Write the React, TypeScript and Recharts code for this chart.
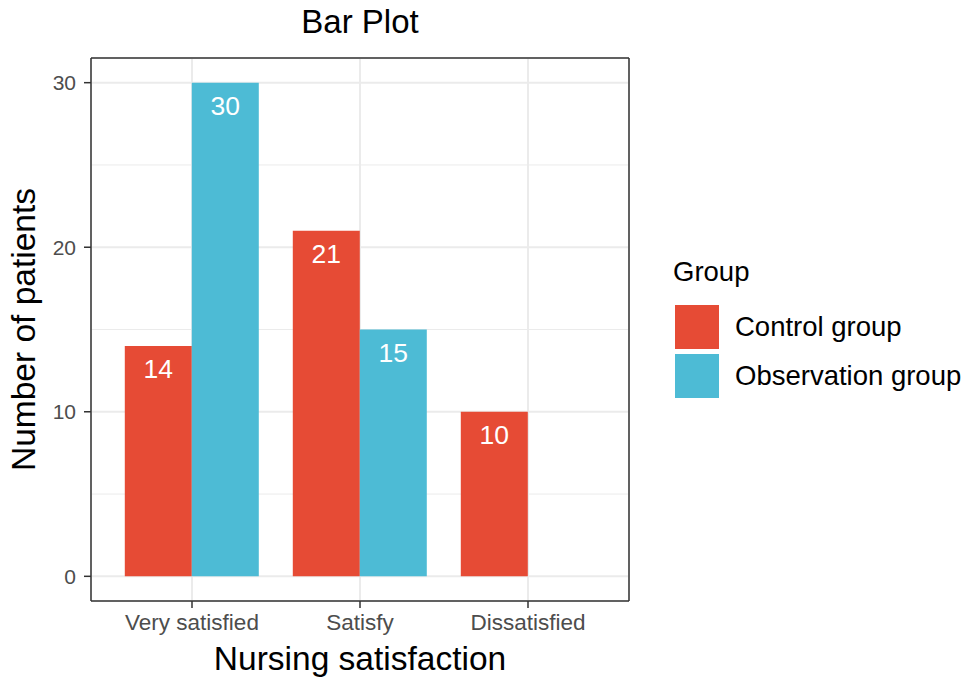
import React from 'react';
import { BarChart, Bar, XAxis, YAxis, CartesianGrid, LabelList, Legend } from 'recharts';

const categories = ['Very satisfied', 'Satisfy', 'Dissatisfied'];
const controlValues: (number | null)[] = [14, 21, 10];
const observationValues: (number | null)[] = [30, 15, null];
const yTicks = [0, 10, 20, 30];
const yMinorTicks = [5, 15, 25];
const seriesNames = ['Control group', 'Observation group'];
const seriesColors = ['#E64B35', '#4DBBD5'];

const data = categories.map((c, i) => ({ cat: c, control: controlValues[i], observation: observationValues[i] }));

const FONT = '"Liberation Sans", Arial, sans-serif';
const Y_DOMAIN: [number, number] = [-1.5, 31.5];

const renderBarLabel = (props: any) => {
  const { x, y, width, value } = props;
  if (value === null || value === undefined) return null;
  return (
    <text x={x + width / 2} y={y + 13} dy="0.72em" textAnchor="middle" fill="#FFFFFF" fontSize={26.5} fontFamily={FONT}>
      {value}
    </text>
  );
};

const LegendContent = () => (
  <div style={{ fontFamily: FONT, color: '#000', whiteSpace: 'nowrap', position: 'relative' }}>
    <div style={{ position: 'absolute', left: 13, top: 2, fontSize: 27.5, lineHeight: '30px' }}>Group</div>
    {seriesNames.map((n, i) => (
      <div key={n} style={{ position: 'absolute', left: 15, top: 50 + i * 49, display: 'flex', alignItems: 'center' }}>
        <div style={{ width: 44, height: 44, background: seriesColors[i] }} />
        <div style={{ marginLeft: 16, fontSize: 27.5 }}>{n}</div>
      </div>
    ))}
  </div>
);

const minorGen = (args: any) => {
  const { yAxis, offset } = args || {};
  if (yAxis && typeof yAxis.scale === 'function') {
    return yMinorTicks.map((v) => yAxis.scale(v));
  }
  const top = offset.top;
  const h = offset.height;
  return yMinorTicks.map((v) => top + (h * (Y_DOMAIN[1] - v)) / (Y_DOMAIN[1] - Y_DOMAIN[0]));
};

export default function App() {
  return (
    <div style={{ position: 'absolute', left: 0, top: 0, width: 964, height: 678, background: '#fff' }}>
      <BarChart
        width={964}
        height={678}
        data={data}
        margin={{ top: 57, right: 334, bottom: 0, left: 0 }}
        barCategoryGap="10%"
        barGap={0}
      >
        <CartesianGrid stroke="#EBEBEB" strokeWidth={1} vertical={false} horizontalCoordinatesGenerator={minorGen} />
        <CartesianGrid stroke="#EBEBEB" strokeWidth={2} />
        <XAxis
          dataKey="cat"
          height={77}
          padding={{ left: 17, right: 17 }}
          tickSize={7}
          tickMargin={6}
          axisLine={{ stroke: '#333333', strokeWidth: 1.5 }}
          tickLine={{ stroke: '#333333', strokeWidth: 1.5 }}
          tick={{ fill: '#4D4D4D', fontSize: 22.5, fontFamily: FONT }}
          label={{ value: 'Nursing satisfaction', position: 'insideBottom', offset: 8, fill: '#000', fontSize: 33.5, fontFamily: FONT }}
        />
        <XAxis
          xAxisId="top"
          dataKey="cat"
          orientation="top"
          height={1}
          padding={{ left: 17, right: 17 }}
          tick={false}
          tickLine={false}
          axisLine={{ stroke: '#333333', strokeWidth: 1.5 }}
          label={{ value: 'Bar Plot', position: 'top', offset: 24, fill: '#000', fontSize: 33, fontFamily: FONT }}
        />
        <YAxis
          width={91}
          domain={Y_DOMAIN}
          ticks={yTicks}
          tickSize={7}
          tickMargin={8}
          allowDataOverflow
          axisLine={{ stroke: '#333333', strokeWidth: 1.5 }}
          tickLine={{ stroke: '#333333', strokeWidth: 1.5 }}
          tick={{ fill: '#4D4D4D', fontSize: 21, fontFamily: FONT }}
          label={{ value: 'Number of patients', angle: -90, position: 'insideLeft', offset: 23, fill: '#000', fontSize: 33.5, fontFamily: FONT, style: { textAnchor: 'middle' } }}
        />
        <YAxis
          yAxisId="right"
          orientation="right"
          width={1}
          domain={Y_DOMAIN}
          allowDataOverflow
          tick={false}
          tickLine={false}
          axisLine={{ stroke: '#333333', strokeWidth: 1.5 }}
        />
        <Legend
          content={<LegendContent />}
          wrapperStyle={{ position: 'absolute', left: 660, top: 255, width: 0, height: 0, overflow: 'visible' }}
        />
        <Bar dataKey="control" name={seriesNames[0]} fill={seriesColors[0]} isAnimationActive={false}>
          <LabelList dataKey="control" content={renderBarLabel} />
        </Bar>
        <Bar dataKey="observation" name={seriesNames[1]} fill={seriesColors[1]} isAnimationActive={false}>
          <LabelList dataKey="observation" content={renderBarLabel} />
        </Bar>
      </BarChart>
    </div>
  );
}
